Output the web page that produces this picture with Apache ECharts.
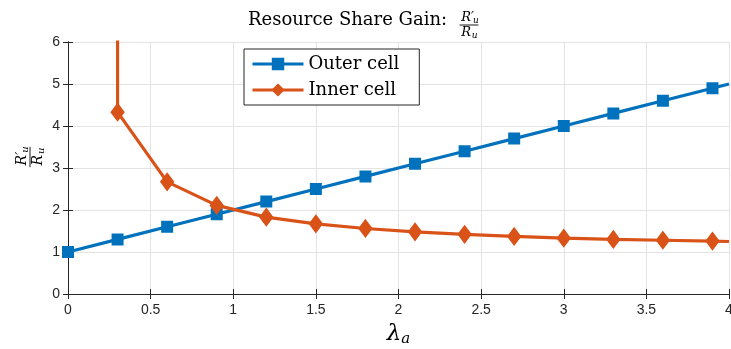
<!DOCTYPE html>
<html>
<head>
<meta charset="utf-8">
<script src="https://cdn.jsdelivr.net/npm/echarts@6/dist/echarts.min.js"></script>
<style>
  html, body { margin: 0; padding: 0; background: #ffffff; }
  #chart { width: 731px; height: 349px; }
</style>
</head>
<body>
<div id="chart"></div>
<script>
// Traffic load lambda_a on the horizontal axis
const outerLambda = [0, 0.3, 0.6, 0.9, 1.2, 1.5, 1.8, 2.1, 2.4, 2.7, 3.0, 3.3, 3.6, 3.9, 4.0];
const outerGain   = [1.0, 1.3, 1.6, 1.9, 2.2, 2.5, 2.8, 3.1, 3.4, 3.7, 4.0, 4.3, 4.6, 4.9, 5.0];

// Inner cell gain: the first entry runs off the top of the axes
const innerLambda = [0.3, 0.3, 0.6, 0.9, 1.2, 1.5, 1.8, 2.1, 2.4, 2.7, 3.0, 3.3, 3.6, 3.9, 4.0];
const innerGain   = [7.0, 4.33, 2.67, 2.11, 1.83, 1.67, 1.56, 1.48, 1.42, 1.37, 1.33, 1.30, 1.28, 1.26, 1.25];

// Points drawn without a marker (line only)
const outerNoMarker = [14];
const innerNoMarker = [0, 14];

const seriesNames = ['Outer cell', 'Inner cell'];
const titleText = 'Resource Share Gain:';

const BLUE = '#0072BD';
const ORANGE = '#D95319';
const AXIS = '#262626';
const GRID = '#e3e3e3';
const SERIF = '"DejaVu Serif", "Liberation Serif", serif';
const SANS = '"Liberation Sans", Arial, sans-serif';

function pairs(xs, ys, hidden) {
  return xs.map((x, i) => {
    const item = { value: [x, ys[i]] };
    if (hidden.indexOf(i) >= 0) item.symbol = 'none';
    return item;
  });
}

// R'_u over R_u, drawn as a small stacked fraction
function fraction(cx, cy, rotation, size) {
  const sub = Math.round(size * 0.7);
  const w = size * 1.45;
  return {
    type: 'group',
    x: cx, y: cy,
    rotation: rotation,
    children: [
      { type: 'text', x: -size * 0.6, y: -1,
        style: { text: 'R′', font: 'italic ' + size + 'px ' + SERIF, fill: '#000',
                 align: 'left', verticalAlign: 'bottom' } },
      { type: 'text', x: size * 0.3, y: 0,
        style: { text: 'u', font: 'italic ' + sub + 'px ' + SERIF, fill: '#000',
                 align: 'left', verticalAlign: 'bottom' } },
      { type: 'line', shape: { x1: -w / 2, y1: 0, x2: w / 2, y2: 0 },
        style: { stroke: '#000', lineWidth: 0.9 } },
      { type: 'text', x: -size * 0.6, y: 1,
        style: { text: 'R', font: 'italic ' + size + 'px ' + SERIF, fill: '#000',
                 align: 'left', verticalAlign: 'top' } },
      { type: 'text', x: size * 0.22, y: size * 0.45,
        style: { text: 'u', font: 'italic ' + sub + 'px ' + SERIF, fill: '#000',
                 align: 'left', verticalAlign: 'top' } }
    ]
  };
}

const chart = echarts.init(document.getElementById('chart'), null, { renderer: 'canvas' });

const baseX = { type: 'value', min: 0, max: 4, interval: 0.5 };
const baseY = { type: 'value', min: 0, max: 6, interval: 1 };

chart.setOption({
  animation: false,
  backgroundColor: '#ffffff',
  title: {
    text: titleText,
    left: 248, top: 11,
    padding: 0,
    textStyle: { fontFamily: SERIF, fontWeight: 'normal', fontSize: 18, color: '#000' }
  },
  grid: { left: 68, right: 2, top: 42, bottom: 55, outerBoundsMode: 'none', containLabel: false },
  legend: {
    orient: 'vertical',
    left: 244, top: 49,
    padding: [4, 20, 4, 7],
    itemGap: 4,
    itemWidth: 51, itemHeight: 13,
    backgroundColor: '#ffffff',
    borderColor: AXIS, borderWidth: 1,
    lineStyle: { width: 3 },
    textStyle: { fontFamily: SERIF, fontSize: 18, color: '#000', lineHeight: 22 },
    data: seriesNames
  },
  xAxis: [
    Object.assign({}, baseX, {
      position: 'bottom',
      name: '{l|λ}{s|a}',
      nameLocation: 'middle',
      nameGap: 27,
      nameTextStyle: {
        rich: {
          l: { fontFamily: SERIF, fontStyle: 'italic', fontSize: 23, color: '#000' },
          s: { fontFamily: SERIF, fontStyle: 'italic', fontSize: 15, color: '#000', padding: [11, 0, 0, 0] }
        }
      },
      axisLine: { show: true, lineStyle: { color: AXIS, width: 1 } },
      axisTick: { show: true, inside: true, length: 5, lineStyle: { color: AXIS } },
      axisLabel: { color: AXIS, fontFamily: SANS, fontSize: 14, margin: 9, hideOverlap: false },
      splitLine: { show: true, lineStyle: { color: GRID, width: 1 } }
    }),
    Object.assign({}, baseX, {
      position: 'top',
      axisLine: { show: true, lineStyle: { color: AXIS, width: 1 } },
      axisTick: { show: true, inside: true, length: 5, lineStyle: { color: AXIS } },
      axisLabel: { show: false },
      splitLine: { show: false }
    })
  ],
  yAxis: [
    Object.assign({}, baseY, {
      position: 'left',
      axisLine: { show: true, lineStyle: { color: AXIS, width: 1 } },
      axisTick: { show: true, inside: true, length: 5, lineStyle: { color: AXIS } },
      axisLabel: { color: AXIS, fontFamily: SANS, fontSize: 14, margin: 8 },
      splitLine: { show: true, lineStyle: { color: GRID, width: 1 } }
    }),
    Object.assign({}, baseY, {
      position: 'right',
      axisLine: { show: true, lineStyle: { color: AXIS, width: 1 } },
      axisTick: { show: true, inside: true, length: 5, lineStyle: { color: AXIS } },
      axisLabel: { show: false },
      splitLine: { show: false }
    })
  ],
  series: [
    {
      name: seriesNames[0],
      type: 'line',
      xAxisIndex: 0, yAxisIndex: 0,
      data: pairs(outerLambda, outerGain, outerNoMarker),
      clip: true,
      symbol: 'rect',
      symbolSize: 10,
      showAllSymbol: true,
      lineStyle: { color: BLUE, width: 3.2 },
      itemStyle: { color: BLUE, borderColor: BLUE, borderWidth: 2 },
      z: 3
    },
    {
      name: seriesNames[1],
      type: 'line',
      xAxisIndex: 0, yAxisIndex: 0,
      data: pairs(innerLambda, innerGain, innerNoMarker),
      clip: true,
      symbol: 'diamond',
      symbolSize: [12, 16],
      showAllSymbol: true,
      lineStyle: { color: ORANGE, width: 3.2 },
      itemStyle: { color: ORANGE, borderColor: ORANGE, borderWidth: 2 },
      z: 4
    }
  ],
  graphic: [
    fraction(469, 25, 0, 13),
    fraction(30, 157, Math.PI / 2, 14)
  ]
});
</script>
</body>
</html>
